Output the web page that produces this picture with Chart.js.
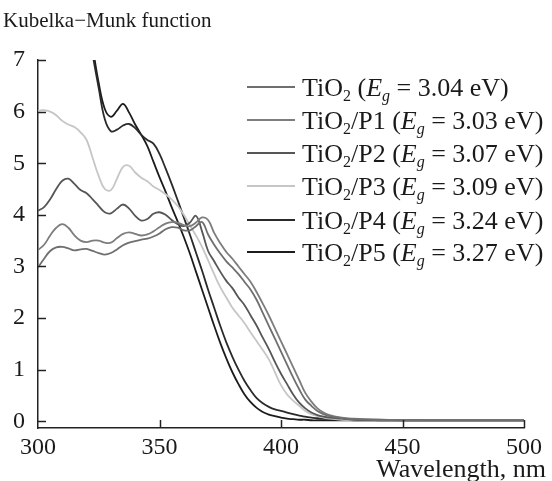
<!DOCTYPE html>
<html>
<head>
<meta charset="utf-8">
<script src="https://cdn.jsdelivr.net/npm/chart.js@4/dist/chart.umd.min.js"></script>
<style>
  body { margin: 0; background: #fff; }
  canvas { display: block; }
</style>
</head>
<body>
<canvas id="km-chart" width="552" height="481"></canvas>
<script>
// wavelength grid, nm
const wavelength = [300, 302.5, 305, 307.5, 310, 312.5, 315, 317.5, 320, 322.5, 325, 327.5, 330, 332.5, 335, 337.5,
    340, 342.5, 345, 347.5, 350, 352.5, 355, 357.5, 360, 362.5, 365, 367.5, 370, 372.5, 375, 377.5,
    380, 382.5, 385, 387.5, 390, 392.5, 395, 397.5, 400, 402.5, 405, 407.5, 410, 412.5, 415, 417.5,
    420, 425, 430, 440, 450, 460, 480, 500];

const tio2 = [2.98, 3.15, 3.30, 3.37, 3.38, 3.35, 3.31, 3.33, 3.34, 3.30, 3.26, 3.23, 3.26, 3.33, 3.41, 3.46,
    3.49, 3.52, 3.54, 3.58, 3.64, 3.72, 3.76, 3.75, 3.70, 3.70, 3.78, 3.86, 3.62, 3.42, 3.25, 3.10,
    2.98, 2.85, 2.70, 2.55, 2.35, 2.10, 1.85, 1.60, 1.35, 1.10, 0.85, 0.62, 0.42, 0.30, 0.20, 0.14,
    0.10, 0.06, 0.04, 0.03, 0.02, 0.02, 0.02, 0.02];
const p1 = [3.32, 3.42, 3.60, 3.75, 3.82, 3.75, 3.60, 3.50, 3.47, 3.50, 3.50, 3.46, 3.46, 3.55, 3.63, 3.66,
    3.63, 3.60, 3.62, 3.68, 3.76, 3.83, 3.86, 3.85, 3.80, 3.78, 3.85, 3.95, 3.90, 3.65, 3.45, 3.28,
    3.15, 3.00, 2.85, 2.70, 2.50, 2.28, 2.05, 1.80, 1.55, 1.30, 1.05, 0.80, 0.55, 0.38, 0.25, 0.17,
    0.12, 0.07, 0.05, 0.03, 0.02, 0.02, 0.02, 0.02];
const p2 = [4.08, 4.15, 4.30, 4.50, 4.66, 4.70, 4.60, 4.48, 4.42, 4.30, 4.17, 4.05, 4.03, 4.12, 4.20, 4.12,
    3.98, 3.89, 3.92, 4.02, 4.05, 4.00, 3.90, 3.82, 3.78, 3.85, 3.98, 3.68, 3.30, 3.10, 2.90, 2.72,
    2.58, 2.40, 2.25, 2.05, 1.85, 1.62, 1.40, 1.15, 0.92, 0.72, 0.52, 0.36, 0.25, 0.17, 0.12, 0.09,
    0.07, 0.05, 0.03, 0.02, 0.02, 0.02, 0.02, 0.02];
const p3 = [6.02, 6.03, 6.00, 5.93, 5.82, 5.75, 5.70, 5.60, 5.45, 5.10, 4.75, 4.50, 4.48, 4.70, 4.93, 4.95,
    4.82, 4.72, 4.65, 4.55, 4.48, 4.40, 4.30, 4.17, 4.00, 3.80, 3.60, 3.38, 3.12, 2.85, 2.60, 2.40,
    2.20, 2.05, 1.90, 1.72, 1.55, 1.38, 1.20, 0.95, 0.70, 0.52, 0.40, 0.30, 0.20, 0.14, 0.10, 0.07,
    0.05, 0.03, 0.02, 0.02, 0.02, 0.02, 0.02, 0.02];
const p4 = [null, null, null, null, null, null, 9.4, 8.6, 7.8, 7.1, 6.45, 5.85, 5.62, 5.65, 5.73, 5.76,
    5.68, 5.55, 5.45, 5.38, 5.18, 4.90, 4.60, 4.28, 3.95, 3.62, 3.27, 2.92, 2.55, 2.20, 1.85, 1.53,
    1.25, 1.00, 0.78, 0.60, 0.45, 0.35, 0.28, 0.23, 0.20, 0.17, 0.14, 0.11, 0.09, 0.07, 0.06, 0.05,
    0.04, 0.03, 0.02, 0.02, 0.02, 0.02, 0.02, 0.02];
const p5 = [null, null, null, null, null, null, 9.6, 8.8, 8.0, 7.25, 6.55, 6.05, 5.90, 6.02, 6.15, 5.98,
    5.75, 5.55, 5.33, 5.03, 4.73, 4.45, 4.15, 3.87, 3.57, 3.25, 2.90, 2.55, 2.20, 1.85, 1.52, 1.22,
    0.95, 0.72, 0.52, 0.37, 0.26, 0.18, 0.13, 0.10, 0.07, 0.05, 0.04, 0.03, 0.03, 0.02, 0.02, 0.02,
    0.02, 0.02, 0.02, 0.02, 0.02, 0.02, 0.02, 0.02];

const xTicks = [300, 350, 400, 450, 500];
const yTicks = [0, 1, 2, 3, 4, 5, 6, 7];

// legend: "TiO2" + suffix + " (Eg = ... eV)"
const sampleSuffix = ['', '/P1', '/P2', '/P3', '/P4', '/P5'];
const bandGap = ['3.04', '3.03', '3.07', '3.09', '3.24', '3.27'];
const seriesColors = ['#6f6f6f', '#7d7d7d', '#565656', '#c6c6c6', '#2a2a2a', '#1c1c1c'];
const allSeries = [tio2, p1, p2, p3, p4, p5];

const SERIF = '"Liberation Serif", "Times New Roman", serif';

function toPoints(values) {
    return wavelength.map((w, i) => ({ x: w, y: values[i] }));
}

// draws a run of text pieces: n = normal, sub = subscript, i = italic, isub = italic subscript
function drawRich(ctx, x, y, parts, size) {
    parts.forEach(([text, style]) => {
        let font = size + 'px ' + SERIF;
        let dy = 0;
        if (style === 'sub') { font = Math.round(size * 0.62) + 'px ' + SERIF; dy = size * 0.2; }
        if (style === 'i') font = 'italic ' + size + 'px ' + SERIF;
        if (style === 'isub') { font = 'italic ' + Math.round(size * 0.62) + 'px ' + SERIF; dy = size * 0.2; }
        ctx.font = font;
        ctx.fillText(text, x, y + dy);
        x += ctx.measureText(text).width;
    });
}

const decorPlugin = {
    id: 'decor',
    afterDraw(chart) {
        const ctx = chart.ctx;
        const xs = chart.scales.x;
        const ys = chart.scales.y;
        const area = chart.chartArea;
        ctx.save();
        ctx.strokeStyle = '#222';
        ctx.lineWidth = 1.5;
        // inward ticks
        yTicks.forEach(v => {
            const py = Math.round(ys.getPixelForValue(v)) + 0.5;
            ctx.beginPath();
            ctx.moveTo(area.left, py);
            ctx.lineTo(area.left + 8, py);
            ctx.stroke();
        });
        xTicks.slice(1).forEach(v => {
            const px = Math.round(xs.getPixelForValue(v)) + 0.5;
            ctx.beginPath();
            ctx.moveTo(px, area.bottom);
            ctx.lineTo(px, area.bottom - 8);
            ctx.stroke();
        });

        ctx.fillStyle = '#1a1a1a';
        ctx.textBaseline = 'alphabetic';
        ctx.textAlign = 'left';
        ctx.font = '21px ' + SERIF;
        ctx.fillText('Kubelka\u2212Munk function', 3, 27);
        ctx.textAlign = 'right';
        ctx.font = '26px ' + SERIF;
        ctx.fillText('Wavelength, nm', 546, 477);

        // legend
        ctx.textAlign = 'left';
        const rowY = [87, 120, 153, 186, 220, 252];
        sampleSuffix.forEach((suf, i) => {
            ctx.strokeStyle = seriesColors[i];
            ctx.lineWidth = 2;
            ctx.beginPath();
            ctx.moveTo(247, rowY[i]);
            ctx.lineTo(295, rowY[i]);
            ctx.stroke();
            ctx.fillStyle = '#1a1a1a';
            drawRich(ctx, 302, rowY[i] + 9, [
                ['TiO', 'n'], ['2', 'sub'], [suf + ' (', 'n'], ['E', 'i'], ['g', 'isub'],
                [' = ' + bandGap[i] + ' eV)', 'n']
            ], 26);
        });
        ctx.restore();
    }
};

const ctx = document.getElementById('km-chart').getContext('2d');
new Chart(ctx, {
    type: 'line',
    data: {
        datasets: allSeries.map((vals, i) => ({
            label: 'TiO2' + sampleSuffix[i],
            data: toPoints(vals),
            borderColor: seriesColors[i],
            borderWidth: 1.8,
            pointRadius: 0,
            tension: 0.4,
            fill: false
        }))
    },
    options: {
        responsive: false,
        animation: false,
        layout: { padding: { top: 60, right: 28, left: 0, bottom: 0 } },
        plugins: {
            legend: { display: false },
            tooltip: { enabled: false }
        },
        scales: {
            x: {
                type: 'linear',
                min: 300,
                max: 500,
                afterFit: s => { s.height = 53; },
                afterBuildTicks: s => { s.ticks = xTicks.map(v => ({ value: v })); },
                grid: { display: false, drawTicks: false },
                border: { display: true, color: '#222', width: 1.5 },
                ticks: { color: '#1a1a1a', padding: 5, maxRotation: 0, font: { family: SERIF, size: 24 } }
            },
            y: {
                min: -0.13,
                max: 7,
                afterFit: s => { s.width = 38; },
                afterBuildTicks: s => { s.ticks = yTicks.map(v => ({ value: v })); },
                grid: { display: false, drawTicks: false },
                border: { display: true, color: '#222', width: 1.5 },
                ticks: { color: '#1a1a1a', padding: 13, font: { family: SERIF, size: 24 } }
            }
        }
    },
    plugins: [decorPlugin]
});
</script>
</body>
</html>
